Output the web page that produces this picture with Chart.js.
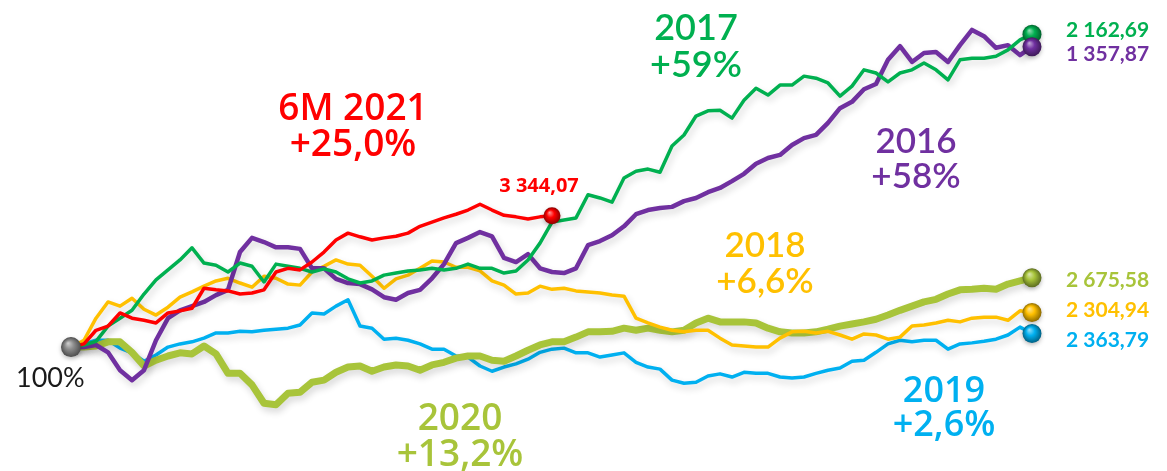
<!DOCTYPE html>
<html lang="ru">
<head>
    <meta charset="UTF-8">
    <title>Индекс по годам</title>
    <script src="https://cdn.jsdelivr.net/npm/chart.js@4.4.1/dist/chart.umd.min.js"></script>
    <style>
        body {
            margin: 0;
            background: #fff;
        }
        .chart-box {
            width: 1167px;
            height: 471px;
            position: relative;
        }
    </style>
</head>
<body>
    <div class="chart-box">
        <canvas id="chart"></canvas>
    </div>

    <script>
        // Index level, start of each period = 100%
        const days = Array.from({ length: 81 }, (_, i) => i);

        const y2021 = [100, 100.6, 103.2, 104.0, 106.5, 105.5, 105.1, 104.6, 106.5, 106.9,
            107.4, 111.2, 110.9, 110.7, 110.1, 110.3, 110.9, 114.3, 115.0, 114.7,
            116.2, 118.1, 120.4, 121.7, 121.0, 120.4, 120.8, 121.1, 121.7, 123.0,
            123.8, 124.6, 125.3, 126.1, 127.2, 126.1, 125.1, 124.8, 124.4, 124.8,
            125.0];

        const y2017 = [100, 100.4, 101.1, 104.0, 105.5, 107.0, 110.1, 112.8, 114.7, 116.6,
            118.9, 116.0, 115.6, 114.3, 116.0, 115.4, 112.4, 115.8, 115.4, 115.0,
            114.3, 114.9, 114.3, 113.0, 112.2, 112.6, 113.7, 114.1, 114.5, 114.7,
            115.0, 114.7, 115.0, 115.8, 115.0, 115.0, 114.1, 114.5, 116.6, 119.8,
            123.8, 124.2, 124.6, 129.0, 128.4, 127.6, 132.2, 133.5, 133.9, 133.3,
            138.3, 140.4, 144.0, 145.0, 145.1, 143.6, 147.0, 149.3, 148.0, 149.9,
            149.9, 151.6, 151.2, 150.3, 147.8, 149.7, 152.8, 152.2, 150.5, 152.2,
            152.8, 154.1, 152.8, 150.9, 154.7, 155.0, 155.0, 155.4, 156.6, 158.5,
            159.6];

        const y2016 = [100, 100, 100.4, 99.0, 95.6, 93.7, 95.6, 101.3, 105.5, 107.0,
            107.8, 108.6, 109.9, 110.9, 118.1, 120.8, 120.0, 119.0, 119.0, 118.7,
            115.0, 115.0, 113.0, 112.2, 112.0, 111.0, 109.5, 109.0, 110.3, 110.9,
            113.1, 115.8, 119.8, 120.8, 121.9, 121.1, 117.0, 116.2, 117.7, 115.0,
            114.3, 114.1, 115.0, 119.4, 120.2, 121.3, 123.0, 125.3, 126.1, 126.5,
            126.7, 127.8, 128.4, 129.5, 130.3, 131.6, 133.0, 134.9, 136.0, 136.6,
            138.5, 139.8, 140.4, 142.7, 145.5, 146.7, 149.1, 150.1, 154.7, 157.3,
            154.3, 156.0, 156.2, 154.3, 157.5, 160.4, 159.2, 157.0, 157.5, 155.6,
            157.2];

        const y2018 = [100, 101.3, 105.5, 108.6, 107.8, 109.3, 107.2, 106.1, 107.6, 109.5,
            110.5, 111.6, 112.6, 113.1, 112.2, 111.4, 113.5, 113.1, 112.0, 111.8,
            114.3, 115.4, 116.6, 115.8, 115.6, 113.5, 111.2, 113.0, 113.7, 115.0,
            116.4, 116.2, 115.2, 115.2, 114.5, 112.6, 111.8, 110.1, 110.3, 111.6,
            111.0, 111.2, 110.7, 110.5, 110.3, 109.9, 109.7, 105.5, 104.6, 103.8,
            103.2, 102.9, 103.2, 103.2, 101.7, 100.4, 100.2, 100.0, 100.0, 101.7,
            102.9, 103.0, 102.7, 103.0, 102.3, 101.5, 102.5, 102.3, 101.5, 101.9,
            104.0, 104.2, 104.6, 105.1, 104.8, 105.5, 105.7, 105.7, 105.1, 106.9,
            106.6];

        const y2019 = [100, 100.6, 101.3, 101.3, 99.8, 98.9, 97.3, 98.5, 100.0, 100.6,
            101.0, 101.7, 102.7, 102.7, 103.0, 102.9, 103.2, 103.4, 103.6, 104.2,
            106.5, 106.3, 107.8, 109.0, 104.0, 103.6, 101.5, 101.7, 101.3, 100.6,
            99.6, 99.6, 98.3, 98.1, 96.4, 95.4, 96.2, 96.8, 97.7, 99.0,
            99.6, 99.8, 98.9, 98.9, 98.1, 98.5, 98.9, 97.1, 96.2, 95.8,
            93.7, 93.1, 93.3, 94.5, 94.9, 94.3, 95.2, 95.0, 95.0, 94.3,
            94.1, 94.3, 95.0, 95.6, 96.0, 97.3, 97.5, 99.0, 100.6, 101.3,
            101.0, 101.3, 101.3, 99.6, 100.6, 100.8, 101.1, 101.5, 102.3, 103.8,
            102.6];

        const y2020 = [100, 100, 100.2, 101.0, 101.0, 99.0, 96.4, 97.5, 98.3, 98.9,
            98.7, 100.2, 98.7, 95.0, 95.0, 92.8, 89.3, 89.0, 91.2, 91.4,
            93.3, 93.7, 95.2, 96.2, 96.4, 95.4, 96.2, 96.6, 96.4, 95.6,
            96.6, 97.1, 97.9, 98.3, 98.3, 97.5, 97.3, 98.3, 99.4, 100.4,
            101.0, 101.0, 101.9, 102.9, 102.9, 103.0, 103.6, 103.2, 103.6, 103.2,
            102.9, 103.2, 104.6, 105.5, 104.8, 104.8, 104.8, 104.6, 103.6, 102.9,
            102.7, 102.7, 102.9, 103.4, 104.0, 104.4, 104.8, 105.3, 106.1, 107.0,
            107.8, 108.6, 109.1, 110.1, 110.9, 111.0, 111.2, 111.0, 112.0, 112.6,
            113.2];

        const series = [
            { name: '6M 2021', data: y2021, color: '#ff0000', width: 3.5 },
            { name: '2017', data: y2017, color: '#00b050', width: 3.5 },
            { name: '2016', data: y2016, color: '#7030a0', width: 4.5 },
            { name: '2018', data: y2018, color: '#ffc000', width: 3.5 },
            { name: '2020', data: y2020, color: '#a8c43a', width: 7 },
            { name: '2019', data: y2019, color: '#00b0f0', width: 3.5 }
        ];

        const endValues = ['3 344,07', '2 162,69', '1 357,87', '2 304,94', '2 675,58', '2 363,79'];

        // big captions: text lines, colour, font, centre x, baselines
        const captions = [
            { lines: ['6M 2021', '+25,0%'], color: '#ff0000', font: '600 37px "Open Sans"', x: 353, y: [120, 156] },
            { lines: ['2017', '+59%'], color: '#00b050', font: '600 36px Lato', x: 696, y: [40, 77] },
            { lines: ['2016', '+58%'], color: '#7030a0', font: '600 35px Lato', x: 916, y: [153, 188] },
            { lines: ['2018', '+6,6%'], color: '#ffc000', font: '600 35px Lato', x: 765, y: [257, 293] },
            { lines: ['2019', '+2,6%'], color: '#00b0f0', font: '600 36px "Open Sans"', x: 944, y: [402, 436] },
            { lines: ['2020', '+13,2%'], color: '#a8c43a', font: '600 37px "Open Sans"', x: 460, y: [430, 466] }
        ];

        function shade(hex, f) {
            const n = parseInt(hex.slice(1), 16);
            let r = (n >> 16) & 255, g = (n >> 8) & 255, b = n & 255;
            if (f > 0) {
                r += (255 - r) * f; g += (255 - g) * f; b += (255 - b) * f;
            } else {
                r *= 1 + f; g *= 1 + f; b *= 1 + f;
            }
            return `rgb(${Math.round(r)},${Math.round(g)},${Math.round(b)})`;
        }

        function drawBall(ctx, x, y, r, color) {
            ctx.save();
            ctx.shadowColor = 'rgba(0,0,0,0.25)';
            ctx.shadowBlur = 4;
            ctx.shadowOffsetY = 2;
            const g = ctx.createRadialGradient(x - r * 0.3, y - r * 0.4, 0, x, y, r);
            g.addColorStop(0, shade(color, 0.6));
            g.addColorStop(0.45, color);
            g.addColorStop(1, shade(color, -0.45));
            ctx.fillStyle = g;
            ctx.beginPath();
            ctx.arc(x, y, r, 0, Math.PI * 2);
            ctx.fill();
            ctx.restore();
        }

        const shadowPlugin = {
            id: 'lineShadow',
            beforeDatasetDraw(chart) {
                const ctx = chart.ctx;
                ctx.save();
                ctx.shadowColor = 'rgba(0,0,0,0.16)';
                ctx.shadowBlur = 7;
                ctx.shadowOffsetX = 2;
                ctx.shadowOffsetY = 4;
            },
            afterDatasetDraw(chart) {
                chart.ctx.restore();
            }
        };

        const labelsPlugin = {
            id: 'labels',
            afterDatasetsDraw(chart) {
                const ctx = chart.ctx;

                // start ball and 100% label
                const first = chart.getDatasetMeta(0).data[0];
                drawBall(ctx, first.x - 1, first.y, 10, '#8c8c8c');
                ctx.save();
                ctx.fillStyle = '#1a1a1a';
                ctx.font = '27px Lato';
                ctx.textAlign = 'left';
                ctx.textBaseline = 'alphabetic';
                ctx.fillText('100%', 16, 387);
                ctx.restore();

                // end balls and values
                const valueY = [192, 37, 61, 317, 287, 347];
                chart.data.datasets.forEach((ds, i) => {
                    const pts = chart.getDatasetMeta(i).data;
                    const p = pts[pts.length - 1];
                    drawBall(ctx, p.x, p.y, i === 0 ? 8.5 : 9.5, ds.borderColor);
                    ctx.save();
                    ctx.fillStyle = ds.borderColor;
                    ctx.textBaseline = 'alphabetic';
                    if (i === 0) {
                        ctx.font = '700 20px "Open Sans"';
                        ctx.textAlign = 'center';
                        ctx.fillText(endValues[i], 539, valueY[i]);
                    } else {
                        ctx.font = 'bold 21px Lato';
                        ctx.textAlign = 'left';
                        ctx.fillText(endValues[i], 1066, valueY[i]);
                    }
                    ctx.restore();
                });

                // captions
                captions.forEach(c => {
                    ctx.save();
                    ctx.fillStyle = c.color;
                    ctx.font = c.font;
                    ctx.textAlign = 'center';
                    ctx.textBaseline = 'alphabetic';
                    c.lines.forEach((t, k) => ctx.fillText(t, c.x, c.y[k]));
                    ctx.restore();
                });
            }
        };

        new Chart(document.getElementById('chart'), {
            type: 'line',
            data: {
                labels: days,
                datasets: series.map(s => ({
                    label: s.name,
                    data: s.data,
                    borderColor: s.color,
                    borderWidth: s.width,
                    pointRadius: 0,
                    tension: 0,
                    fill: false,
                    borderJoinStyle: 'round',
                    borderCapStyle: 'round',
                    clip: false
                }))
            },
            options: {
                responsive: true,
                maintainAspectRatio: false,
                animation: false,
                devicePixelRatio: 1,
                layout: {
                    padding: { left: 72, right: 135, top: 0, bottom: 0 }
                },
                scales: {
                    x: { display: false, offset: false },
                    y: { display: false, min: 76.4, max: 166.1 }
                },
                plugins: {
                    legend: { display: false },
                    tooltip: { enabled: false }
                }
            },
            plugins: [shadowPlugin, labelsPlugin]
        });
    </script>
</body>
</html>
